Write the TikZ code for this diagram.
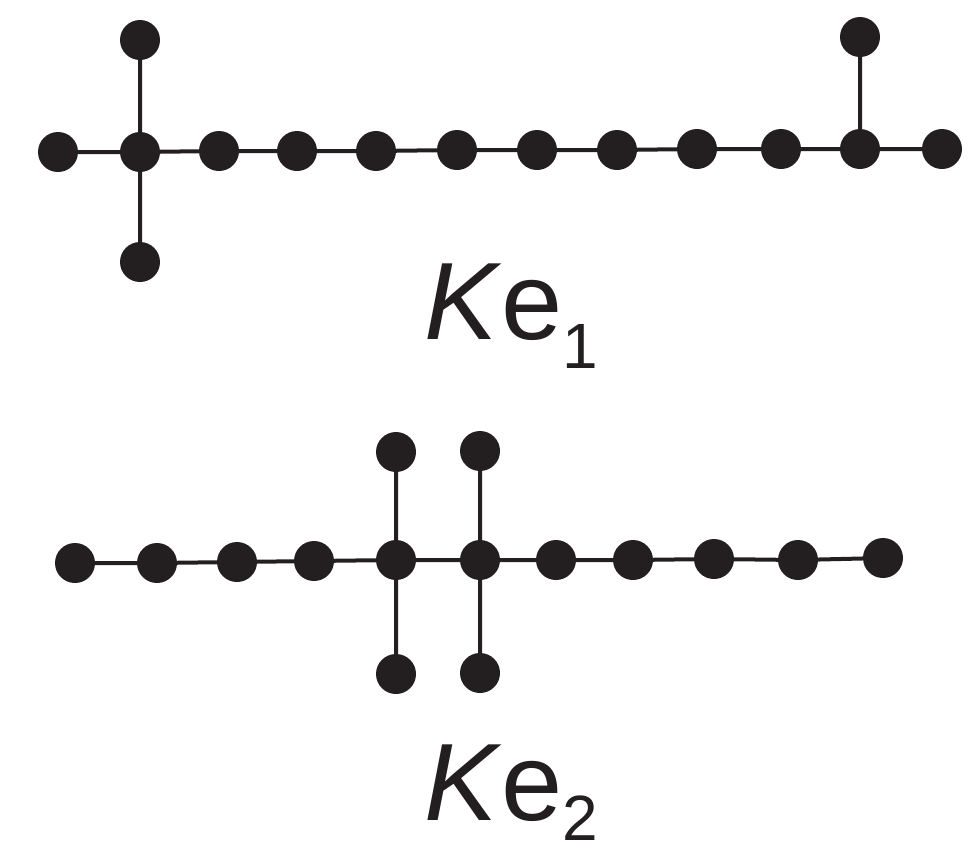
\documentclass[tikz,border=0pt]{standalone}
\usepackage{fontspec}
\setmainfont{Liberation Sans}
\definecolor{ink}{HTML}{231F20}
\begin{document}
\begin{tikzpicture}[x=1pt,y=-1pt,
  vtx/.style={circle,fill=ink,inner sep=0pt,minimum size=40pt},
  edg/.style={draw=ink,line width=4pt},
  lbl/.style={anchor=base west,inner sep=0pt,text=ink}]
\useasboundingbox (0,0) rectangle (974,855);
\fill[white] (0,0) rectangle (974,855);
% top graph Ke1
\node[vtx] (a1) at (58,152) {};
\node[vtx] (a2) at (140,152) {};
\node[vtx] (a3) at (219,151) {};
\node[vtx] (a4) at (297,151) {};
\node[vtx] (a5) at (376,151) {};
\node[vtx] (a6) at (457,150) {};
\node[vtx] (a7) at (537,150) {};
\node[vtx] (a8) at (617,150) {};
\node[vtx] (a9) at (697,149) {};
\node[vtx] (a10) at (781,149) {};
\node[vtx] (a11) at (860,149) {};
\node[vtx] (a12) at (942,149) {};
\node[vtx] (at2) at (140,40) {};
\node[vtx] (ab2) at (140,262) {};
\node[vtx] (at11) at (860,37) {};
\draw[edg] (a1)--(a2) (a2)--(a3) (a3)--(a4) (a4)--(a5) (a5)--(a6) (a6)--(a7)
  (a7)--(a8) (a8)--(a9) (a9)--(a10) (a10)--(a11) (a11)--(a12)
  (a2)--(at2) (a2)--(ab2) (a11)--(at11);
\node[lbl] (l1) at (424,339) {\fontsize{110}{110}\selectfont\textit{K}e\raisebox{-29pt}{\fontsize{64}{64}\selectfont 1}};
% bottom graph Ke2
\node[vtx] (b1) at (75,563) {};
\node[vtx] (b2) at (157,563) {};
\node[vtx] (b3) at (237,562) {};
\node[vtx] (b4) at (314,561) {};
\node[vtx] (b5) at (396,560) {};
\node[vtx] (b6) at (480,560) {};
\node[vtx] (b7) at (556,560) {};
\node[vtx] (b8) at (633,560) {};
\node[vtx] (b9) at (714,559) {};
\node[vtx] (b10) at (798,560) {};
\node[vtx] (b11) at (883,558) {};
\node[vtx] (bt5) at (396,452) {};
\node[vtx] (bb5) at (396,674) {};
\node[vtx] (bt6) at (480,451) {};
\node[vtx] (bb6) at (480,673) {};
\draw[edg] (b1)--(b2) (b2)--(b3) (b3)--(b4) (b4)--(b5) (b5)--(b6) (b6)--(b7)
  (b7)--(b8) (b8)--(b9) (b9)--(b10) (b10)--(b11)
  (b5)--(bt5) (b5)--(bb5) (b6)--(bt6) (b6)--(bb6);
\node[lbl] (l2) at (424,820) {\fontsize{110}{110}\selectfont\textit{K}e\raisebox{-20pt}{\fontsize{64}{64}\selectfont 2}};
\end{tikzpicture}
\end{document}
